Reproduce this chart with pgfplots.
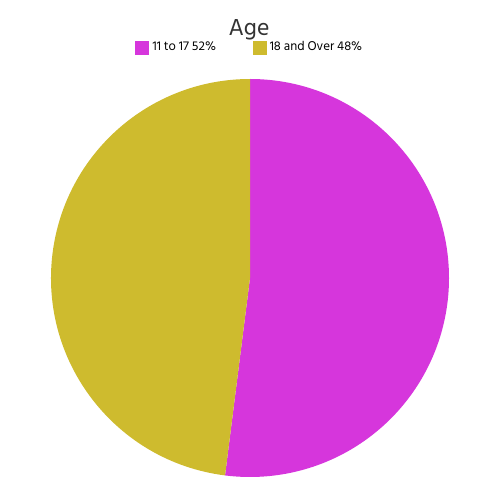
\documentclass[border=0pt]{standalone}
\usepackage{pgfplots}
\pgfplotsset{compat=1.18}
\usepackage{pgfplotstable}
\usepackage{fontspec}
\setmainfont{Hind Siliguri}

\definecolor{slicemag}{RGB}{214,54,220}
\definecolor{sliceyel}{RGB}{206,187,46}
\definecolor{txt}{RGB}{51,51,51}

% share of each age group, in percent
\pgfplotstableread{
label value
{11 to 17} 52
{18 and Over} 48
}\agedata

\begin{document}
\begin{tikzpicture}
\pgfplotstablegetelem{0}{value}\of\agedata
\pgfmathsetmacro{\va}{\pgfplotsretval}
\pgfplotstablegetelem{1}{value}\of\agedata
\pgfmathsetmacro{\vb}{\pgfplotsretval}
% slices start at 12 o'clock and go clockwise
\pgfmathsetmacro{\aone}{90-3.6*\va}
\pgfmathsetmacro{\atwo}{\aone-3.6*\vb}
\pgfmathsetmacro{\bx}{250+199*cos(\aone)}
\pgfmathsetmacro{\by}{222+199*sin(\aone)}
\begin{axis}[
    scale only axis,
    width=10cm, height=10cm,
    xmin=0, xmax=500, ymin=0, ymax=500,
    hide axis,
    clip=false,
    legend columns=2,
    legend style={draw=none, fill=none, at={(axis cs:135,452.5)}, anchor=west,
        font=\fontsize{7.4}{8}\selectfont, text=black,
        /tikz/every even column/.append style={column sep=0.66cm},
        inner sep=0pt, row sep=0pt},
    legend cell align=left,
    legend image code/.code={\fill[#1] (0cm,-0.13cm) rectangle (0.26cm,0.13cm);},
]
\path (axis cs:0,0) rectangle (axis cs:500,500);
\addlegendimage{slicemag}
\addlegendentry{11 to 17 52\%}
\addlegendimage{sliceyel}
\addlegendentry{18 and Over 48\%}
\fill[slicemag] (axis cs:250,222) -- (axis cs:250,421) arc[start angle=90, end angle=\aone, radius=199] -- cycle;
\fill[sliceyel] (axis cs:250,222) -- (axis cs:\bx,\by) arc[start angle=\aone, end angle=\atwo, radius=199] -- cycle;
\node[text=txt, font=\fontsize{13.5}{14}\selectfont] at (axis cs:249,470) {Age};
\end{axis}
\end{tikzpicture}
\end{document}
